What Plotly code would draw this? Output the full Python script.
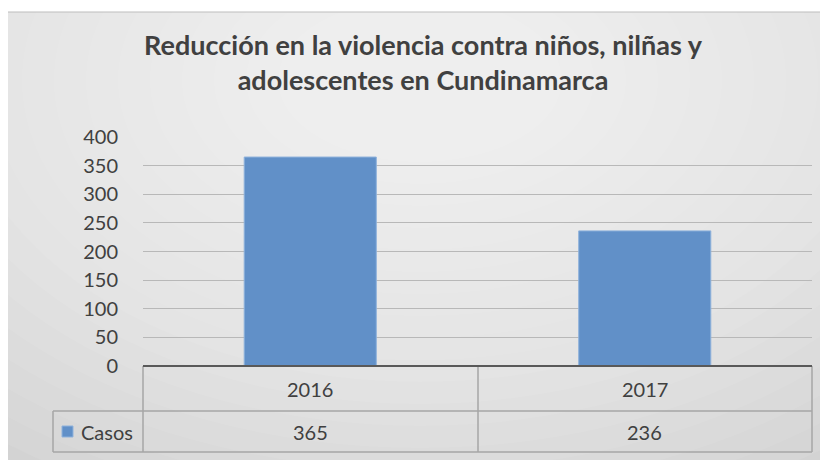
import plotly.graph_objects as go

# ---- data ----
categories = ["2016", "2017"]
series_name = "Casos"
values = [365, 236]
y_ticks = [0, 50, 100, 150, 200, 250, 300, 350, 400]
title_text = "Reducción en la violencia contra niños, nilñas y<br>adolescentes en Cundinamarca"

W, H = 828, 460
OFF = 8  # page body margin: page coordinate = figure coordinate + 8
# plot area in page pixels: x 143..812, y 137..366
PL, PR, PT, PB = 143, 812, 137, 366
L = PL - OFF
T = PT - OFF
R = W - (PR - OFF)
B = H - (PB - OFF)
PW, PH = PR - PL, PB - PT


def px(x):  # page px -> paper x
    return (x - PL) / PW


def py(y):  # page px -> paper y
    return (PB - y) / PH


TXT = "#404040"
FONT = "Lato"
BAR = "#6190c8"
GRID = "#b8b8b8"
TABLE = "#a6a6a6"

fig = go.Figure()
fig.add_trace(go.Bar(
    x=categories, y=values, name=series_name,
    marker=dict(color=BAR, line=dict(color="#8fb2dc", width=1)),
    width=0.395, showlegend=False,
))

shapes = []
# chart background
shapes.append(dict(type="rect", xref="paper", yref="paper", layer="below",
                   x0=px(8), x1=px(840), y0=py(470), y1=py(12),
                   fillcolor="#cdcdcd", line=dict(width=0)))
# radial-ish light glow
n = 20
for i in range(n):
    f = 1 - i / n
    rx = 110 + 640 * f
    ry = 60 + 440 * f
    cx, cy = 420, 80
    shapes.append(dict(type="circle", xref="paper", yref="paper", layer="below",
                       x0=px(cx - rx), x1=px(cx + rx), y0=py(cy + ry), y1=py(cy - ry),
                       fillcolor="rgba(255,255,255,0.07)", line=dict(width=0)))
# chart top border
shapes.append(dict(type="line", xref="paper", yref="paper", layer="below",
                   x0=px(8), x1=px(840), y0=py(12), y1=py(12),
                   line=dict(color="#bdbdbd", width=1)))


def hline(y, x0, x1, color=TABLE, w=1.5):
    shapes.append(dict(type="line", xref="paper", yref="paper",
                       x0=px(x0), x1=px(x1), y0=py(y), y1=py(y),
                       line=dict(color=color, width=w)))


def vline(x, y0, y1, color=TABLE, w=1.5):
    shapes.append(dict(type="line", xref="paper", yref="paper",
                       x0=px(x), x1=px(x), y0=py(y0), y1=py(y1),
                       line=dict(color=color, width=w)))


hline(411, 53, 812)
hline(452, 53, 812)
vline(143, 366, 452)
vline(478, 366, 452)
vline(812, 366, 452)
vline(53, 411, 452)
hline(366, 143, 812, color="#595959", w=2)

# legend key square
shapes.append(dict(type="rect", xref="paper", yref="paper",
                   x0=px(62), x1=px(73), y0=py(437), y1=py(426),
                   fillcolor=BAR, line=dict(color="#8fb2dc", width=1)))

annotations = []
for i, c in enumerate(categories):
    annotations.append(dict(x=i, xref="x", y=py(389), yref="paper", text=c,
                            xanchor="center", yanchor="middle",
                            showarrow=False, font=dict(family=FONT, size=20, color=TXT)))
for i, v in enumerate(values):
    annotations.append(dict(x=i, xref="x", y=py(432), yref="paper", text=str(v),
                            xanchor="center", yanchor="middle",
                            showarrow=False, font=dict(family=FONT, size=20, color=TXT)))
annotations.append(dict(x=px(79), xref="paper", y=py(432), yref="paper", text=series_name,
                        xanchor="left", yanchor="middle", showarrow=False,
                        font=dict(family=FONT, size=20, color=TXT)))

fig.update_layout(
    width=W, height=H,
    margin=dict(l=L, r=R, t=T, b=B),
    paper_bgcolor="white", plot_bgcolor="rgba(0,0,0,0)",
    title=dict(text=title_text, x=(423 - OFF) / W, xanchor="center",
               y=1 - (55 - OFF) / H, yanchor="middle", yref="container",
               font=dict(family=FONT, size=27, color=TXT, weight="bold")),
    xaxis=dict(type="category", showticklabels=False, showgrid=False, zeroline=False,
               range=[-0.5, 1.5], fixedrange=True),
    yaxis=dict(range=[0, 400], tickvals=y_ticks, showgrid=True, gridcolor=GRID,
               gridwidth=1, zeroline=False, showline=False,
               tickfont=dict(family=FONT, size=20, color=TXT), ticklen=0,
               ticks="", ticklabelstandoff=24),
    shapes=shapes, annotations=annotations,
)

fig.write_html("out.html")
